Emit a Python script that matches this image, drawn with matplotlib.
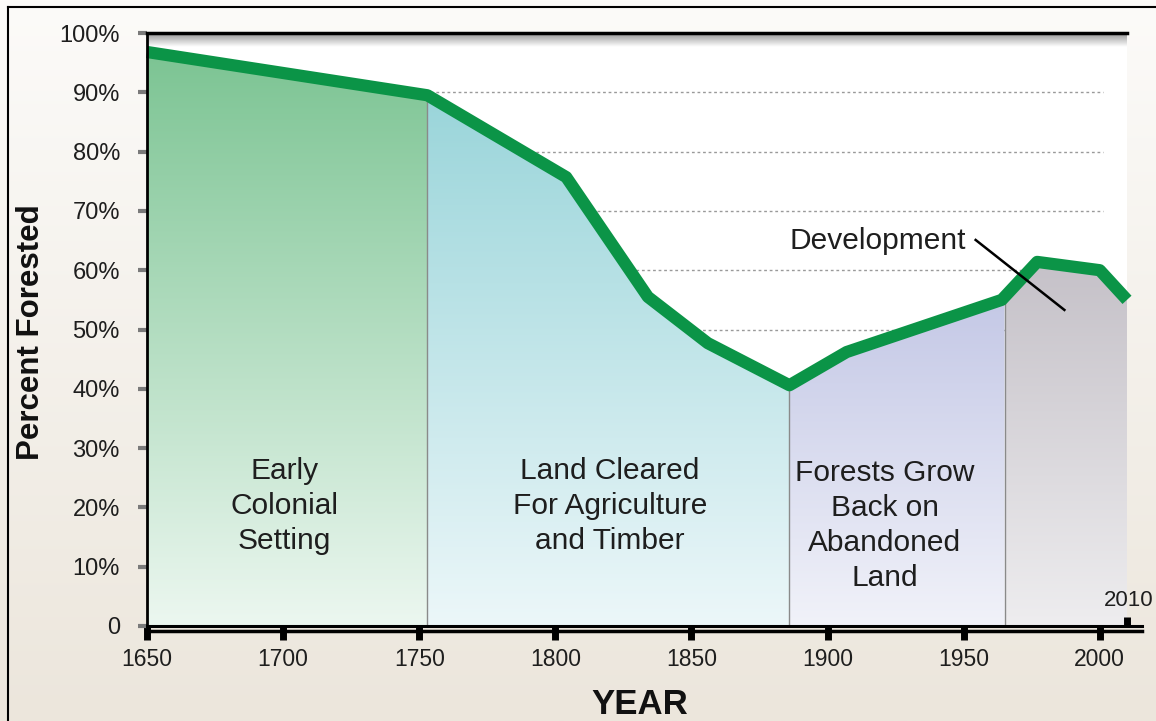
import numpy as np
import matplotlib
matplotlib.use("Agg")
import matplotlib.pyplot as plt
from matplotlib.patches import Polygon
from matplotlib.colors import to_rgb
from matplotlib.lines import Line2D
import matplotlib.transforms as mtrans

plt.rcParams['font.family'] = ['Liberation Sans', 'DejaVu Sans']

# ---- data ----
years = np.array([1650, 1753, 1804, 1834, 1856, 1886, 1907, 1964, 1977, 2000, 2010])
pct = np.array([96.8, 89.5, 75.7, 55.5, 47.7, 40.6, 46.2, 55.0, 61.4, 60.0, 55.0])
section_bounds = [1650, 1753, 1886, 1965, 2010]
section_labels = ["Early\nColonial\nSetting",
                  "Land Cleared\nFor Agriculture\nand Timber",
                  "Forests Grow\nBack on\nAbandoned\nLand",
                  ""]
section_label_pos = [(1700.5, 20.3), (1820, 20.3), (1921, 16.95)]
section_colors = [("#7cc493", "#ecf7f0"),
                  ("#9ad5da", "#ecf7f9"),
                  ("#c4c8e6", "#f1f2f9"),
                  ("#c5c1c8", "#eeedef")]
xticks = [1650, 1700, 1750, 1800, 1850, 1900, 1950, 2000]
yticks = [0, 10, 20, 30, 40, 50, 60, 70, 80, 90, 100]
ytick_labels = ["0", "10%", "20%", "30%", "40%", "50%", "60%", "70%", "80%", "90%", "100%"]
grid_levels = [50, 60, 70, 80, 90]

W, H = 1156, 721
fig = plt.figure(figsize=(W / 100, H / 100), dpi=100)

# background gradient
bg = fig.add_axes([0, 0, 1, 1], zorder=-10)
t = np.linspace(0, 1, 256)[:, None]
ctop, cbot = np.array(to_rgb("#fcfbf9")), np.array(to_rgb("#ece6dc"))
bgimg = (ctop * (1 - t) + cbot * t)[:, None, :]
bg.imshow(bgimg, aspect='auto', extent=(0, 1, 0, 1), origin='upper')
bg.set_xlim(0, 1); bg.set_ylim(0, 1)
bg.axis('off')
# outer frame (left & top)
fig.add_artist(Line2D([8 / W, 8 / W], [0, 1 - 7 / H], transform=fig.transFigure, color='black', lw=1.5))
fig.add_artist(Line2D([8 / W, 1], [1 - 7 / H, 1 - 7 / H], transform=fig.transFigure, color='black', lw=1.5))

left, right, top, bottom = 147, 1127, 33, 626
ax = fig.add_axes([left / W, 1 - bottom / H, (right - left) / W, (bottom - top) / H])
ax.set_facecolor('white')
ax.set_xlim(1650, 2010)
ax.set_ylim(0, 100)

# grid
ax.hlines(grid_levels, 1650, 2001, colors='#9a9a9a', linestyles=(0, (2, 2)), lw=1, zorder=0.5)

# gradient fills per section
for i in range(len(section_bounds) - 1):
    x0, x1 = section_bounds[i], section_bounds[i + 1]
    inner = years[(years > x0) & (years < x1)]
    xs = np.concatenate([[x0], inner, [x1]])
    ys = np.interp(xs, years, pct)
    verts = np.column_stack([np.r_[xs, x1, x0], np.r_[ys, 0, 0]])
    poly = Polygon(verts, closed=True, facecolor='none', edgecolor='none')
    ax.add_patch(poly)
    ymax = ys.max()
    c1, c2 = np.array(to_rgb(section_colors[i][0])), np.array(to_rgb(section_colors[i][1]))
    tt = np.linspace(0, 1, 256)[:, None]
    img = np.repeat((c1 * (1 - tt) + c2 * tt)[:, None, :], 2, axis=1)
    im = ax.imshow(img, extent=(x0, x1, 0, ymax), aspect='auto', origin='upper', zorder=1)
    im.set_clip_path(poly)
    if 0 < i:
        ax.plot([x0, x0], [0, np.interp(x0, years, pct)], color='#8a8a8a', lw=1, zorder=1.5)

ax.set_xlim(1650, 2010)
ax.set_ylim(0, 100)

# shadow under top line
sh = np.zeros((64, 2, 4))
sh[:, :, 3] = np.linspace(0.45, 0.0, 64)[:, None]
ax.imshow(sh, extent=(1650, 2010, 97.6, 100), aspect='auto', origin='upper', zorder=2)
ax.set_xlim(1650, 2010)
ax.set_ylim(0, 100)

# main line
ax.plot(years, pct, color='#0b9447', lw=8.8, solid_joinstyle='round', solid_capstyle='butt',
        zorder=5, clip_on=False)

# section labels
for (x, y), lab in zip(section_label_pos, section_labels):
    ax.text(x, y, lab, ha='center', va='center', fontsize=21.5, color='#1e1e1e',
            linespacing=1.32, zorder=6)

# development annotation
ax.text(1950.7, 65.0, "Development", ha='right', va='center', fontsize=21.5, color='#1e1e1e', zorder=6)
ax.plot([1954.4, 1987], [65.1, 53.3], color='black', lw=1.8, zorder=6)

# spines
for s in ['right', 'bottom']:
    ax.spines[s].set_visible(False)
ax.spines['top'].set_linewidth(2.5)
ax.spines['top'].set_zorder(7)
ax.spines['left'].set_linewidth(2)
ax.spines['left'].set_zorder(7)

# double bottom axis line
ax.plot([1650, 2015.5], [0, 0], color='black', lw=2.2, clip_on=False, zorder=7)
off = mtrans.ScaledTranslation(0, -4.5 / 100, fig.dpi_scale_trans)
ax.add_line(Line2D([1650, 2015.5], [0, 0], transform=ax.get_xaxis_transform() + off,
                   color='black', lw=2.5, clip_on=False, zorder=7))

# ticks
ax.set_xticks(xticks)
ax.set_xticklabels([str(x) for x in xticks])
ax.set_xticks([2010], minor=True)
ax.tick_params(axis='x', which='major', direction='out', length=10, width=5, color='black',
               pad=6, labelsize=16.5, labelcolor='#1e1e1e')
ax.tick_params(axis='x', which='minor', direction='in', length=6.5, width=5, color='black')
ax.set_yticks(yticks)
ax.set_yticklabels(ytick_labels)
ax.tick_params(axis='y', direction='out', length=6.5, width=3, color='#7a7a7a',
               pad=13, labelsize=17, labelcolor='#1e1e1e')
ax.text(2010.5, 4.3, "2010", ha='center', va='center', fontsize=16, color='#1e1e1e', zorder=8,
        clip_on=False)

# axis titles
fig.text(31 / W, 1 - 332 / H, "Percent Forested", rotation=90, ha='center', va='center',
         fontsize=22.5, fontweight='bold', color='#111111')
fig.text(640 / W, 1 - 705 / H, "YEAR", ha='center', va='center', fontsize=25,
         fontweight='bold', color='#111111')

fig.savefig("out.png", dpi=100)
